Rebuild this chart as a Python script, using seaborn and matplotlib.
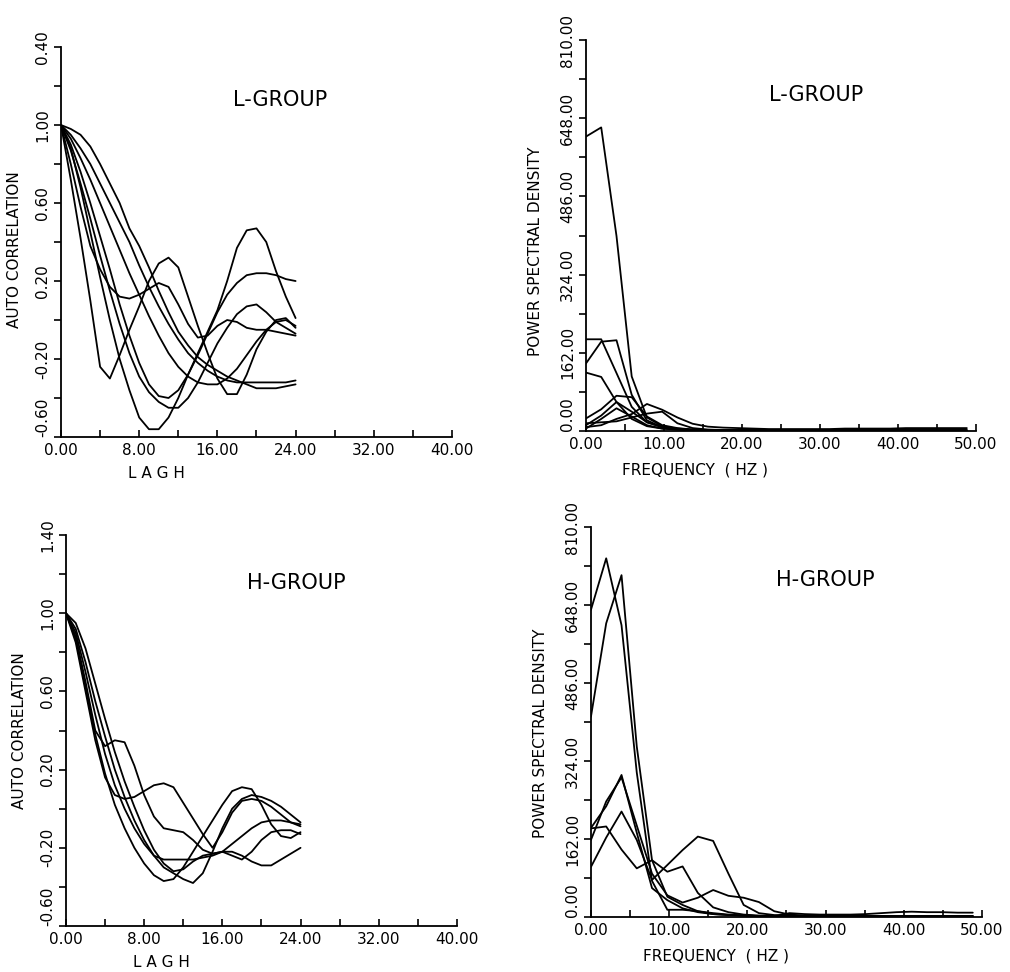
import numpy as np
import pandas as pd
import matplotlib
matplotlib.use("Agg")
import matplotlib.pyplot as plt
import seaborn as sns
from matplotlib.ticker import MultipleLocator, FixedLocator, FixedFormatter

# ---- data -------------------------------------------------------------
lags = [0, 1, 2, 3, 4, 5, 6, 7, 8, 9, 10, 11, 12, 13, 14, 15, 16, 17, 18, 19, 20, 21, 22, 23, 24]

# L-group auto correlation
acf_l1 = [1.00, 0.72, 0.42, 0.10, -0.24, -0.30, -0.18, -0.05, 0.07, 0.20, 0.29, 0.32, 0.27, 0.12, -0.03, -0.17, -0.30, -0.38, -0.38, -0.28, -0.15, -0.06, 0.00, 0.01, -0.04]
acf_l2 = [1.00, 0.88, 0.68, 0.45, 0.22, 0.00, -0.20, -0.36, -0.50, -0.56, -0.56, -0.50, -0.40, -0.28, -0.17, -0.06, 0.05, 0.20, 0.37, 0.46, 0.47, 0.40, 0.25, 0.12, 0.01]
acf_l3 = [1.00, 0.80, 0.58, 0.38, 0.26, 0.17, 0.12, 0.11, 0.13, 0.16, 0.19, 0.17, 0.08, -0.02, -0.09, -0.08, -0.03, 0.00, -0.01, -0.04, -0.05, -0.05, -0.06, -0.07, -0.08]
acf_l4 = [1.00, 0.87, 0.70, 0.52, 0.33, 0.15, -0.02, -0.17, -0.29, -0.37, -0.42, -0.45, -0.45, -0.40, -0.32, -0.22, -0.12, -0.04, 0.03, 0.07, 0.08, 0.04, -0.01, -0.04, -0.07]
acf_l5 = [1.00, 0.90, 0.76, 0.60, 0.43, 0.26, 0.08, -0.08, -0.22, -0.33, -0.39, -0.40, -0.36, -0.28, -0.18, -0.07, 0.04, 0.13, 0.19, 0.23, 0.24, 0.24, 0.23, 0.21, 0.20]
acf_l6 = [1.00, 0.93, 0.83, 0.72, 0.60, 0.48, 0.36, 0.24, 0.13, 0.02, -0.08, -0.17, -0.24, -0.29, -0.32, -0.33, -0.33, -0.30, -0.25, -0.18, -0.11, -0.05, -0.01, 0.00, -0.03]
acf_l7 = [1.00, 0.98, 0.95, 0.89, 0.80, 0.70, 0.60, 0.47, 0.38, 0.27, 0.15, 0.04, -0.06, -0.13, -0.19, -0.23, -0.26, -0.29, -0.31, -0.33, -0.35, -0.35, -0.35, -0.34, -0.33]
acf_l8 = [1.00, 0.95, 0.88, 0.80, 0.70, 0.60, 0.50, 0.40, 0.28, 0.17, 0.07, -0.02, -0.10, -0.17, -0.22, -0.26, -0.29, -0.31, -0.32, -0.32, -0.32, -0.32, -0.32, -0.32, -0.31]

# H-group auto correlation
acf_h1 = [1.00, 0.88, 0.65, 0.40, 0.32, 0.35, 0.34, 0.22, 0.07, -0.04, -0.10, -0.11, -0.12, -0.16, -0.21, -0.23, -0.22, -0.24, -0.26, -0.22, -0.16, -0.12, -0.11, -0.11, -0.13]
acf_h2 = [1.00, 0.85, 0.60, 0.35, 0.16, 0.07, 0.05, 0.06, 0.09, 0.12, 0.13, 0.11, 0.03, -0.05, -0.13, -0.20, -0.12, -0.02, 0.04, 0.05, 0.04, 0.01, -0.03, -0.07, -0.09]
acf_h3 = [1.00, 0.87, 0.62, 0.38, 0.18, 0.02, -0.10, -0.20, -0.28, -0.34, -0.37, -0.36, -0.30, -0.22, -0.14, -0.06, 0.02, 0.09, 0.11, 0.10, 0.02, -0.08, -0.14, -0.15, -0.12]
acf_h4 = [1.00, 0.92, 0.75, 0.55, 0.37, 0.20, 0.06, -0.06, -0.16, -0.24, -0.30, -0.33, -0.36, -0.38, -0.33, -0.22, -0.10, 0.00, 0.05, 0.07, 0.06, 0.04, 0.01, -0.03, -0.07]
acf_h5 = [1.00, 0.90, 0.70, 0.48, 0.28, 0.12, 0.00, -0.10, -0.18, -0.24, -0.26, -0.26, -0.26, -0.26, -0.25, -0.24, -0.22, -0.18, -0.14, -0.10, -0.07, -0.06, -0.06, -0.07, -0.08]
acf_h6 = [1.00, 0.95, 0.82, 0.64, 0.46, 0.29, 0.14, 0.01, -0.11, -0.21, -0.28, -0.32, -0.31, -0.27, -0.24, -0.23, -0.22, -0.22, -0.24, -0.27, -0.29, -0.29, -0.26, -0.23, -0.20]

freqs = [0.00, 1.95, 3.91, 5.86, 7.81, 9.77, 11.72, 13.67, 15.63, 17.58, 19.53, 21.48, 23.44,
         25.39, 27.34, 29.30, 31.25, 33.20, 35.16, 37.11, 39.06, 41.02, 42.97, 44.92, 46.88, 48.83]

# L-group power spectral density
psd_l1 = [610, 629, 404, 113, 28, 10, 5, 3, 2, 2, 1, 1, 1, 1, 1, 1, 1, 1, 1, 1, 1, 1, 1, 1, 1, 1]
psd_l2 = [190, 190, 120, 50, 18, 8, 4, 2, 2, 1, 1, 1, 1, 1, 1, 1, 1, 1, 1, 1, 1, 1, 1, 1, 1, 1]
psd_l3 = [140, 185, 188, 75, 22, 8, 4, 2, 2, 1, 1, 1, 1, 1, 1, 1, 1, 1, 1, 1, 1, 1, 1, 1, 1, 1]
psd_l4 = [121, 112, 60, 25, 10, 5, 3, 2, 1, 1, 1, 1, 1, 1, 1, 1, 1, 1, 1, 1, 1, 1, 1, 1, 1, 1]
psd_l5 = [26, 45, 73, 70, 30, 12, 6, 3, 2, 1, 1, 1, 1, 1, 1, 1, 1, 1, 1, 1, 1, 1, 1, 1, 1, 1]
psd_l6 = [12, 32, 60, 40, 18, 8, 4, 2, 1, 1, 1, 1, 1, 1, 1, 1, 1, 1, 1, 1, 1, 1, 1, 1, 1, 1]
psd_l7 = [5, 25, 47, 30, 12, 5, 3, 2, 1, 1, 1, 1, 1, 1, 1, 1, 1, 1, 1, 1, 1, 1, 1, 1, 1, 1]
psd_l8 = [16, 18, 20, 28, 36, 40, 16, 6, 3, 2, 2, 1, 1, 1, 1, 1, 1, 1, 1, 1, 1, 1, 1, 1, 1, 1]
psd_l9 = [8, 12, 25, 35, 56, 44, 28, 15, 9, 7, 6, 5, 4, 4, 4, 4, 4, 5, 5, 5, 5, 6, 6, 6, 6, 6]

# H-group power spectral density
psd_h1 = [638, 745, 606, 300, 75, 15, 15, 12, 8, 5, 3, 2, 2, 2, 1, 1, 1, 1, 1, 1, 1, 1, 1, 1, 1, 1]
psd_h2 = [416, 610, 710, 354, 118, 42, 25, 12, 6, 4, 3, 2, 2, 8, 6, 5, 5, 5, 6, 8, 10, 11, 10, 10, 9, 9]
psd_h3 = [185, 230, 295, 175, 60, 35, 18, 10, 6, 4, 3, 2, 2, 1, 1, 1, 1, 1, 1, 1, 1, 1, 1, 1, 1, 1]
psd_h4 = [160, 240, 290, 190, 90, 45, 30, 40, 56, 44, 40, 31, 12, 5, 3, 2, 2, 2, 2, 2, 2, 2, 2, 2, 2, 2]
psd_h5 = [104, 165, 219, 160, 77, 108, 139, 167, 158, 90, 25, 8, 4, 3, 2, 2, 2, 2, 2, 2, 2, 2, 2, 2, 2, 2]
psd_h6 = [184, 188, 140, 101, 118, 94, 105, 50, 20, 10, 5, 3, 2, 2, 1, 1, 1, 1, 1, 1, 1, 1, 1, 1, 1, 1]

acf_ticks = [-0.60, -0.20, 0.20, 0.60, 1.00, 1.40]
acf_tl_labels = ["-0.60", "-0.20", "0.20", "0.60", "1.00", "0.40"]
acf_bl_labels = ["-0.60", "-0.20", "0.20", "0.60", "1.00", "1.40"]
lag_ticks = [0, 8, 16, 24, 32, 40]
lag_labels = ["0.00", "8.00", "16.00", "24.00", "32.00", "40.00"]
psd_ticks = [0, 162, 324, 486, 648, 810]
psd_labels = ["0.00", "162.00", "324.00", "486.00", "648.00", "810.00"]
freq_ticks = [0, 10, 20, 30, 40, 50]
freq_labels = ["0.00", "10.00", "20.00", "30.00", "40.00", "50.00"]


def to_long(xs, series, xname, yname):
    frames = []
    for i, ys in enumerate(series):
        frames.append(pd.DataFrame({xname: xs, yname: ys, "curve": i}))
    return pd.concat(frames, ignore_index=True)


acf_l = to_long(lags, [acf_l1, acf_l2, acf_l3, acf_l4, acf_l5, acf_l6, acf_l7, acf_l8], "lag", "r")
acf_h = to_long(lags, [acf_h1, acf_h2, acf_h3, acf_h4, acf_h5, acf_h6], "lag", "r")
psd_l = to_long(freqs, [psd_l1, psd_l2, psd_l3, psd_l4, psd_l5, psd_l6, psd_l7, psd_l8, psd_l9], "f", "p")
psd_h = to_long(freqs, [psd_h1, psd_h2, psd_h3, psd_h4, psd_h5, psd_h6], "f", "p")

sns.set_style("ticks")
plt.rcParams["font.family"] = ["DejaVu Sans"]
plt.rcParams["text.color"] = "black"
plt.rcParams["axes.labelcolor"] = "black"

fig = plt.figure(figsize=(10.10, 9.72), dpi=100)
ax_tl = fig.add_axes([0.0604, 0.5504, 0.3871, 0.4012])
ax_tr = fig.add_axes([0.5802, 0.5566, 0.3861, 0.4022])
ax_bl = fig.add_axes([0.0653, 0.0473, 0.3871, 0.4023])
ax_br = fig.add_axes([0.5851, 0.0566, 0.3871, 0.4012])


def style_axis(ax, xt, xl, xminor, yt, yl, yminor, xlim, ylim):
    ax.set_xlim(*xlim)
    ax.set_ylim(*ylim)
    sns.despine(ax=ax)
    for side in ("left", "bottom"):
        ax.spines[side].set_linewidth(1.3)
        ax.spines[side].set_color("black")
    ax.xaxis.set_major_locator(FixedLocator(xt))
    ax.xaxis.set_major_formatter(FixedFormatter(xl))
    ax.yaxis.set_major_locator(FixedLocator(yt))
    ax.yaxis.set_major_formatter(FixedFormatter(yl))
    ax.xaxis.set_minor_locator(MultipleLocator(xminor))
    ax.yaxis.set_minor_locator(MultipleLocator(yminor))
    ax.tick_params(axis="x", which="both", direction="in", length=5, width=1.2,
                   labelsize=11, pad=4, colors="black")
    ax.tick_params(axis="y", which="both", direction="out", length=5, width=1.2,
                   labelsize=11, pad=3, colors="black", labelrotation=90)
    ylabs = ax.get_yticklabels()
    for lab in ylabs:
        lab.set_va("center")
    # lift the bottom y label so it clears the x origin label
    ylabs[0].set_va("bottom")
    ax.set_facecolor("white")


# L-group auto correlation
sns.lineplot(data=acf_l, x="lag", y="r", units="curve", estimator=None,
             color="black", lw=1.3, ax=ax_tl, legend=False)
style_axis(ax_tl, lag_ticks, lag_labels, 4, acf_ticks, acf_tl_labels, 0.2, (0, 40), (-0.6, 1.4))
ax_tl.set_xlabel("L A G H", fontsize=11)
ax_tl.set_ylabel("AUTO CORRELATION", fontsize=11)
ax_tl.xaxis.set_label_coords(0.245, -0.075)
ax_tl.yaxis.set_label_coords(-0.1, 0.48)
ax_tl.text(0.56, 0.865, "L-GROUP", transform=ax_tl.transAxes, fontsize=15, ha="center", va="center")

# L-group PSD
sns.lineplot(data=psd_l, x="f", y="p", units="curve", estimator=None,
             color="black", lw=1.3, ax=ax_tr, legend=False)
style_axis(ax_tr, freq_ticks, freq_labels, 5, psd_ticks, psd_labels, 81, (0, 50), (0, 810))
ax_tr.set_xlabel("FREQUENCY  ( HZ )", fontsize=11)
ax_tr.set_ylabel("POWER SPECTRAL DENSITY", fontsize=11)
ax_tr.xaxis.set_label_coords(0.28, -0.08)
ax_tr.yaxis.set_label_coords(-0.11, 0.46)
ax_tr.text(0.59, 0.86, "L-GROUP", transform=ax_tr.transAxes, fontsize=15, ha="center", va="center")

# H-group auto correlation
sns.lineplot(data=acf_h, x="lag", y="r", units="curve", estimator=None,
             color="black", lw=1.3, ax=ax_bl, legend=False)
style_axis(ax_bl, lag_ticks, lag_labels, 4, acf_ticks, acf_bl_labels, 0.2, (0, 40), (-0.6, 1.4))
ax_bl.set_xlabel("L A G H", fontsize=11)
ax_bl.set_ylabel("AUTO CORRELATION", fontsize=11)
ax_bl.xaxis.set_label_coords(0.245, -0.075)
ax_bl.yaxis.set_label_coords(-0.1, 0.50)
ax_bl.text(0.59, 0.877, "H-GROUP", transform=ax_bl.transAxes, fontsize=15, ha="center", va="center")

# H-group PSD
sns.lineplot(data=psd_h, x="f", y="p", units="curve", estimator=None,
             color="black", lw=1.3, ax=ax_br, legend=False)
style_axis(ax_br, freq_ticks, freq_labels, 5, psd_ticks, psd_labels, 81, (0, 50), (0, 810))
ax_br.set_xlabel("FREQUENCY  ( HZ )", fontsize=11)
ax_br.set_ylabel("POWER SPECTRAL DENSITY", fontsize=11)
ax_br.xaxis.set_label_coords(0.32, -0.08)
ax_br.yaxis.set_label_coords(-0.11, 0.47)
ax_br.text(0.60, 0.864, "H-GROUP", transform=ax_br.transAxes, fontsize=15, ha="center", va="center")

fig.savefig("out.png", dpi=100, facecolor="white")
